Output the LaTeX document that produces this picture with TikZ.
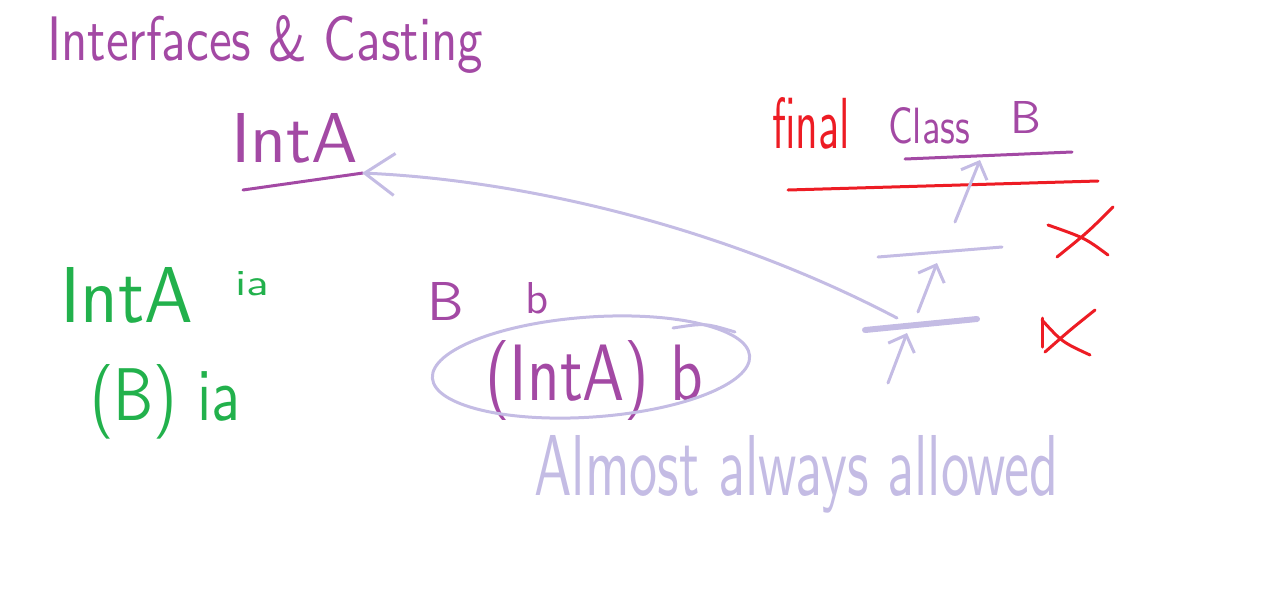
\documentclass[tikz,border=0pt]{standalone}
\usepackage{graphicx}
\usetikzlibrary{arrows.meta}
\definecolor{penpurple}{RGB}{163,73,164}
\definecolor{pengreen}{RGB}{34,177,76}
\definecolor{penred}{RGB}{237,28,36}
\definecolor{penlilac}{RGB}{196,188,228}
\newcommand{\pen}[3]{\resizebox{#1}{#2}{\sffamily #3}}

\begin{document}
\begin{tikzpicture}[x=1pt,y=-1pt,
	ink/.style={inner sep=0pt,anchor=base west},
	purpleline/.style={draw=penpurple,line width=3pt,line cap=round},
	lilac/.style={draw=penlilac,line width=3pt,line cap=round},
	redmark/.style={draw=penred,line width=3pt,line cap=round},
	barb/.style={-{Straight Barb[length=14pt,width=28pt]}}]
	\useasboundingbox (0,0) rectangle (1268,590);

	\node (title) at (47,60)[ink,text=penpurple] {\pen{436pt}{45pt}{Interfaces \& Casting}};

	\node (intA) at (231,162)[ink,text=penpurple] {\pen{127pt}{49pt}{IntA}};
	\draw[purpleline] (243,190) -- (363,173);
	\coordinate (intAtip) at (362,173);

	\node (finalkw) at (772,148)[ink,text=penred] {\pen{78pt}{51pt}{final}};
	\node (classkw) at (888,143)[ink,text=penpurple] {\pen{82pt}{36pt}{Class}};
	\node (classB) at (1010,133)[ink,text=penpurple] {\pen{!}{32pt}{B}};
	\draw[purpleline] (905,159) -- (1072,152);
	\draw[redmark] (788,190) -- (1098,181);
	\draw[lilac] (878,257) -- (1002,247);
	\draw[lilac,line width=6pt] (865,330) -- (977,319);

	\coordinate (castpt) at (897,318);
	\draw[lilac,-{Straight Barb[length=30pt,width=42pt]}] (castpt) .. controls (720,225) and (520,180) .. (intAtip);

	\coordinate (up0) at (888,383);
	\coordinate (lvl0) at (907,333);
	\coordinate (up1) at (918,312);
	\coordinate (lvl1) at (937,263);
	\coordinate (up2) at (955,222);
	\coordinate (lvl2) at (980,160);
	\draw[lilac,barb] (up0) -- (lvl0);
	\draw[lilac,barb] (up1) -- (lvl1);
	\draw[lilac,barb] (up2) -- (lvl2);

	\draw[redmark] (1113,207) .. controls (1088,232) .. (1057,257);
	\draw[redmark] (1048,225) .. controls (1085,238) .. (1108,255);
	\draw[redmark] (1042,318) -- (1042,347);
	\draw[redmark] (1042,320) .. controls (1062,342) .. (1090,355);
	\draw[redmark] (1095,310) .. controls (1070,330) .. (1045,352);

	\node (iadecl) at (60,322)[ink,text=pengreen] {\pen{133pt}{55pt}{IntA}};
	\node (iavar) at (235,295)[ink,text=pengreen] {\pen{34pt}{24pt}{ia}};
	\node (bcast) at (90,420)[ink,text=pengreen] {\pen{150pt}{56pt}{(B) ia}};

	\node (bdecl) at (427,320)[ink,text=penpurple] {\pen{!}{38pt}{B}};
	\node (bvar) at (525,313)[ink,text=penpurple] {\pen{!}{31pt}{b}};
	\node (intAcast) at (485,400)[ink,text=penpurple] {\pen{218pt}{60pt}{(IntA) b}};
	\draw[lilac,rotate around={4:(591,367)}] (591,367) ellipse [x radius=159,y radius=50];
	\draw[lilac] (673,328) .. controls (705,323) .. (735,332);

	\node (allowed) at (534,495)[ink,text=penlilac] {\pen{524pt}{60pt}{Almost always allowed}};
\end{tikzpicture}
\end{document}
